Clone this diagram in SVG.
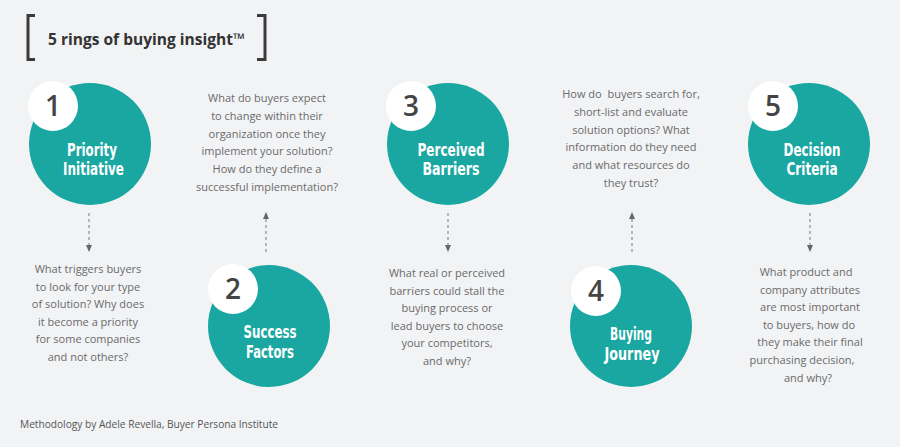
<svg xmlns="http://www.w3.org/2000/svg" width="900" height="447" viewBox="0 0 900 447">
  <defs>
    <style>
      .bg { fill: #f2f3f5; }
      .ring { fill: #1aa7a1; }
      .badge { fill: #ffffff; }
      .num { font-family: "Open Sans", "Liberation Sans", sans-serif; font-weight: 600; font-size: 28px; fill: #444444; text-anchor: middle; }
      .lbl { font-family: "Liberation Sans Narrow", "DejaVu Sans Condensed", "Liberation Sans", sans-serif; font-weight: bold; font-size: 18px; fill: #ffffff; text-anchor: middle; }
      .q { font-family: "Open Sans", "Liberation Sans", sans-serif; font-size: 11px; fill: #6a6a6a; text-anchor: middle; }
      .title { font-family: "Open Sans", "Liberation Sans", sans-serif; font-weight: bold; font-size: 16px; fill: #333333; }
      .foot { font-family: "Open Sans", "Liberation Sans", sans-serif; font-size: 10px; fill: #555555; }
      .brk { fill: none; stroke: #3a3a3a; stroke-width: 3; }
      .conn { fill: none; stroke: #777777; stroke-width: 1; stroke-dasharray: 3 3; }
    </style>
    <marker id="ah" markerUnits="userSpaceOnUse" markerWidth="7" markerHeight="6" refX="0" refY="3" orient="auto" viewBox="0 0 7 6">
      <path d="M0,0 L7,3 L0,6 z" fill="#666666"/>
    </marker>
  </defs>

  <rect class="bg" x="0" y="0" width="900" height="447"/>

  <g id="title">
    <path class="brk" d="M35,15.5 H28 V59.5 H35"/>
    <path class="brk" d="M257,15.5 H265 V59.5 H257"/>
    <text class="title" x="48" y="45" textLength="197" lengthAdjust="spacingAndGlyphs">5 rings of buying insight™</text>
  </g>

  <g id="connectors">
    <line class="conn" x1="89" y1="213" x2="89" y2="245" marker-end="url(#ah)"/>
    <line class="conn" x1="266" y1="252" x2="266" y2="219" marker-end="url(#ah)"/>
    <line class="conn" x1="448" y1="213" x2="448" y2="245" marker-end="url(#ah)"/>
    <line class="conn" x1="632" y1="252" x2="632" y2="219" marker-end="url(#ah)"/>
    <line class="conn" x1="810" y1="213" x2="810" y2="245" marker-end="url(#ah)"/>
  </g>

  <g id="ring1">
    <circle class="ring" cx="90" cy="144" r="61"/>
    <circle class="badge" cx="53" cy="106" r="25"/>
    <text class="num" x="53" y="116">1</text>
    <text class="lbl" x="92" y="156" textLength="50" lengthAdjust="spacingAndGlyphs">Priority</text>
    <text class="lbl" x="93.5" y="175" textLength="61" lengthAdjust="spacingAndGlyphs">Initiative</text>
  </g>

  <g id="ring2">
    <circle class="ring" cx="269" cy="326" r="61"/>
    <circle class="badge" cx="233" cy="289" r="25"/>
    <text class="num" x="233" y="299">2</text>
    <text class="lbl" x="270" y="338" textLength="53" lengthAdjust="spacingAndGlyphs">Success</text>
    <text class="lbl" x="270" y="358" textLength="48" lengthAdjust="spacingAndGlyphs">Factors</text>
  </g>

  <g id="ring3">
    <circle class="ring" cx="448" cy="144" r="61"/>
    <circle class="badge" cx="411" cy="106" r="25"/>
    <text class="num" x="411" y="116">3</text>
    <text class="lbl" x="451" y="156" textLength="67" lengthAdjust="spacingAndGlyphs">Perceived</text>
    <text class="lbl" x="451" y="175" textLength="57" lengthAdjust="spacingAndGlyphs">Barriers</text>
  </g>

  <g id="ring4">
    <circle class="ring" cx="631" cy="326" r="61"/>
    <circle class="badge" cx="596" cy="291" r="25"/>
    <text class="num" x="596" y="301">4</text>
    <text class="lbl" x="631" y="340" textLength="42" lengthAdjust="spacingAndGlyphs">Buying</text>
    <text class="lbl" x="632" y="360" textLength="55" lengthAdjust="spacingAndGlyphs">Journey</text>
  </g>

  <g id="ring5">
    <circle class="ring" cx="809" cy="144" r="61"/>
    <circle class="badge" cx="773" cy="106" r="25"/>
    <text class="num" x="773" y="116">5</text>
    <text class="lbl" x="812" y="156" textLength="57" lengthAdjust="spacingAndGlyphs">Decision</text>
    <text class="lbl" x="812" y="175" textLength="51" lengthAdjust="spacingAndGlyphs">Criteria</text>
  </g>

  <g id="question1">
    <text class="q" x="88" y="273">What triggers buyers</text>
    <text class="q" x="88" y="290.6">to look for your type</text>
    <text class="q" x="88" y="308.2">of solution? Why does</text>
    <text class="q" x="88" y="325.8">it become a priority</text>
    <text class="q" x="88" y="343.4">for some companies</text>
    <text class="q" x="88" y="361">and not others?</text>
  </g>

  <g id="question2">
    <text class="q" x="267" y="102">What do buyers expect</text>
    <text class="q" x="267" y="119.8">to change within their</text>
    <text class="q" x="267" y="137.6">organization once they</text>
    <text class="q" x="267" y="155.4">implement your solution?</text>
    <text class="q" x="267" y="173.2">How do they define a</text>
    <text class="q" x="267" y="191">successful implementation?</text>
  </g>

  <g id="question3">
    <text class="q" x="447" y="277">What real or perceived</text>
    <text class="q" x="447" y="294.6">barriers could stall the</text>
    <text class="q" x="447" y="312.2">buying process or</text>
    <text class="q" x="447" y="329.8">lead buyers to choose</text>
    <text class="q" x="447" y="347.4">your competitors,</text>
    <text class="q" x="447" y="365">and why?</text>
  </g>

  <g id="question4">
    <text class="q" x="631" y="98" xml:space="preserve">How do  buyers search for,</text>
    <text class="q" x="631" y="115.8">short-list and evaluate</text>
    <text class="q" x="631" y="133.6">solution options? What</text>
    <text class="q" x="631" y="151.4">information do they need</text>
    <text class="q" x="631" y="169.2">and what resources do</text>
    <text class="q" x="631" y="187">they trust?</text>
  </g>

  <g id="question5">
    <text class="q" x="806" y="276">What product and</text>
    <text class="q" x="810" y="293.6">company attributes</text>
    <text class="q" x="810" y="311.2">are most important</text>
    <text class="q" x="809" y="328.8">to buyers, how do</text>
    <text class="q" x="810" y="346.4">they make their final</text>
    <text class="q" x="802" y="364">purchasing decision,</text>
    <text class="q" x="808" y="381.6">and why?</text>
  </g>

  <g id="footer">
    <text class="foot" x="20" y="428" textLength="258" lengthAdjust="spacingAndGlyphs">Methodology by Adele Revella, Buyer Persona Institute</text>
  </g>
</svg>
